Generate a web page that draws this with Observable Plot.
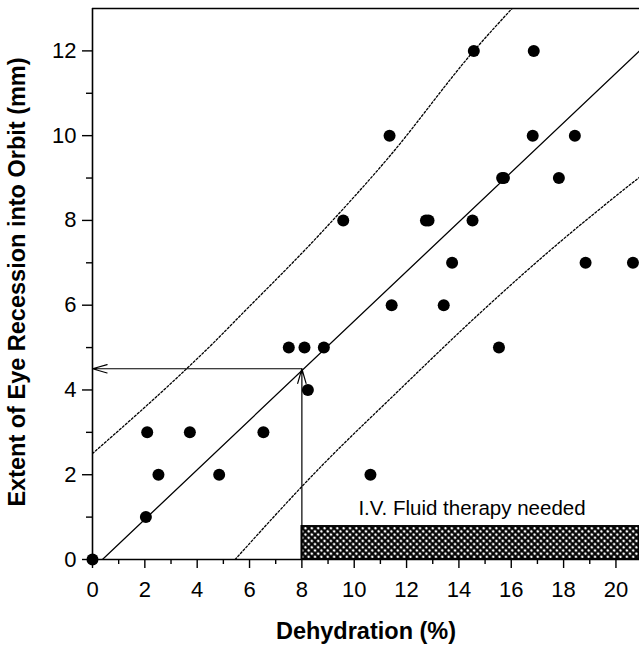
<!DOCTYPE html>
<html>
<head>
<meta charset="utf-8">
<script src="https://cdn.jsdelivr.net/npm/d3@7"></script>
<script src="https://cdn.jsdelivr.net/npm/@observablehq/plot@0.6"></script>
<style>
  body { margin: 0; background: #fff; }
  svg { display: block; }
</style>
</head>
<body>
<div id="chart"></div>
<script>
// ---- Data ----
const dehydration = [0, 2.04, 2.09, 2.52, 3.72, 4.84, 6.53, 7.50, 8.10, 8.23, 8.84,
  9.58, 10.62, 11.35, 11.43, 12.74, 12.84, 13.42, 13.74, 14.52, 14.57, 15.53,
  15.65, 15.72, 16.82, 16.86, 17.82, 18.43, 18.84, 20.65];
const recession = [0, 1, 3, 2, 3, 2, 3, 5, 5, 4, 5,
  8, 2, 10, 6, 8, 8, 6, 7, 8, 12, 5,
  9, 9, 10, 12, 9, 10, 7, 7];

// regression line
const fitX = [0.38, 20.9];
const fitY = [0, 12.0];
// upper prediction band (dotted)
const upperX = [0, 3.56, 4.67, 5.53, 8.71, 11.32, 14.57, 16.03];
const upperY = [2.5, 4.48, 5.14, 5.68, 7.69, 9.49, 12.0, 13.0];
// lower prediction band (dotted)
const lowerX = [5.45, 8.71, 11.64, 14.57, 17.63, 20.9];
const lowerY = [0, 2.18, 3.95, 5.68, 7.37, 9.02];

// reading arrows
const arrowX1 = [8, 8];
const arrowY1 = [0, 4.5];
const arrowX2 = [8, 0];
const arrowY2 = [4.5, 4.5];

// I.V. fluid therapy zone
const zoneX = [8, 20.9];
const zoneY = [0, 0.78];
const zoneLabel = ["I.V. Fluid therapy needed"];
const zoneLabelX = [14.5];
const zoneLabelY = [1.2];

// ticks
const xTicks = [0, 2, 4, 6, 8, 10, 12, 14, 16, 18, 20];
const xMinor = [1, 3, 5, 7, 9, 11, 13, 15, 17, 19];
const yTicks = [0, 2, 4, 6, 8, 10, 12];
const yMinor = [1, 3, 5, 7, 9, 11];

const xTitle = ["Dehydration (%)"];
const yTitle = ["Extent of Eye Recession into Orbit (mm)"];

// ---- Build tables ----
const points = dehydration.map((d, i) => ({x: d, y: recession[i]}));
const fit = fitX.map((d, i) => ({x: d, y: fitY[i]}));
const upper = upperX.map((d, i) => ({x: d, y: upperY[i]}));
const lower = lowerX.map((d, i) => ({x: d, y: lowerY[i]}));
const arrows = arrowX1.map((d, i) => ({x1: d, y1: arrowY1[i], x2: arrowX2[i], y2: arrowY2[i]}));
const zone = [{x1: zoneX[0], x2: zoneX[1], y1: zoneY[0], y2: zoneY[1]}];
const zoneText = zoneLabel.map((t, i) => ({t, x: zoneLabelX[i], y: zoneLabelY[i]}));

const chart = Plot.plot({
  width: 639,
  height: 646,
  marginLeft: 92,
  marginRight: 0,
  marginTop: 8,
  marginBottom: 87,
  style: {fontFamily: "'Liberation Sans', Arial, Helvetica, sans-serif", background: "white", color: "black"},
  x: {domain: [0, 20.9]},
  y: {domain: [0, 13]},
  marks: [
    Plot.rect(zone, {x1: "x1", x2: "x2", y1: "y1", y2: "y2", fill: "url(#hatch)", stroke: "black", strokeWidth: 1.8}),
    Plot.line(upper, {x: "x", y: "y", stroke: "black", strokeWidth: 1.3, strokeDasharray: "2,2", curve: "monotone-x", clip: true}),
    Plot.line(lower, {x: "x", y: "y", stroke: "black", strokeWidth: 1.3, strokeDasharray: "2,2", curve: "monotone-x", clip: true}),
    Plot.line(fit, {x: "x", y: "y", stroke: "black", strokeWidth: 1.3, clip: true}),
    Plot.arrow(arrows, {x1: "x1", y1: "y1", x2: "x2", y2: "y2", stroke: "black", strokeWidth: 1.2, headLength: 19, headAngle: 32}),
    Plot.ruleX([0], {stroke: "black", strokeWidth: 1.6}),
    Plot.ruleY([0], {stroke: "black", strokeWidth: 1.6}),
    Plot.ruleY([13], {stroke: "black", strokeWidth: 1.6}),
    Plot.axisY(yTicks, {tickSize: 10, tickPadding: 6, fontSize: 22, label: null, strokeWidth: 1.4}),
    Plot.axisY(yMinor, {tickSize: 6, tickFormat: () => "", label: null, strokeWidth: 1.4}),
    Plot.axisX(xTicks, {tickSize: 9, tickPadding: 13, fontSize: 22, label: null, strokeWidth: 1.4}),
    Plot.axisX(xMinor, {tickSize: 5, tickFormat: () => "", label: null, strokeWidth: 1.4}),
    Plot.dot(points, {x: "x", y: "y", r: 6, fill: "black", stroke: "none"}),
    Plot.text(zoneText, {x: "x", y: "y", text: "t", fontSize: 20.5, fill: "black"}),
    Plot.text(xTitle, {text: d => d, frameAnchor: "bottom", textAnchor: "middle", lineAnchor: "middle", dy: 72, fontSize: 23.5, fontWeight: "bold", fill: "black"}),
    Plot.text(yTitle, {text: d => d, frameAnchor: "left", textAnchor: "middle", lineAnchor: "middle", rotate: -90, dx: -75, dy: -2, fontSize: 23.5, fontWeight: "bold", fill: "black"})
  ]
});

// cross-hatch pattern used by the zone rectangle
const ns = "http://www.w3.org/2000/svg";
const defs = document.createElementNS(ns, "defs");
defs.innerHTML = '<pattern id="hatch" width="4.5" height="4.5" patternUnits="userSpaceOnUse" patternTransform="rotate(45)">' +
  '<rect width="4.5" height="4.5" fill="white"/>' +
  '<path d="M0 2.25H4.5M2.25 0V4.5" stroke="black" stroke-width="2.1"/></pattern>';
chart.insertBefore(defs, chart.firstChild);

document.getElementById("chart").appendChild(chart);
</script>
</body>
</html>
